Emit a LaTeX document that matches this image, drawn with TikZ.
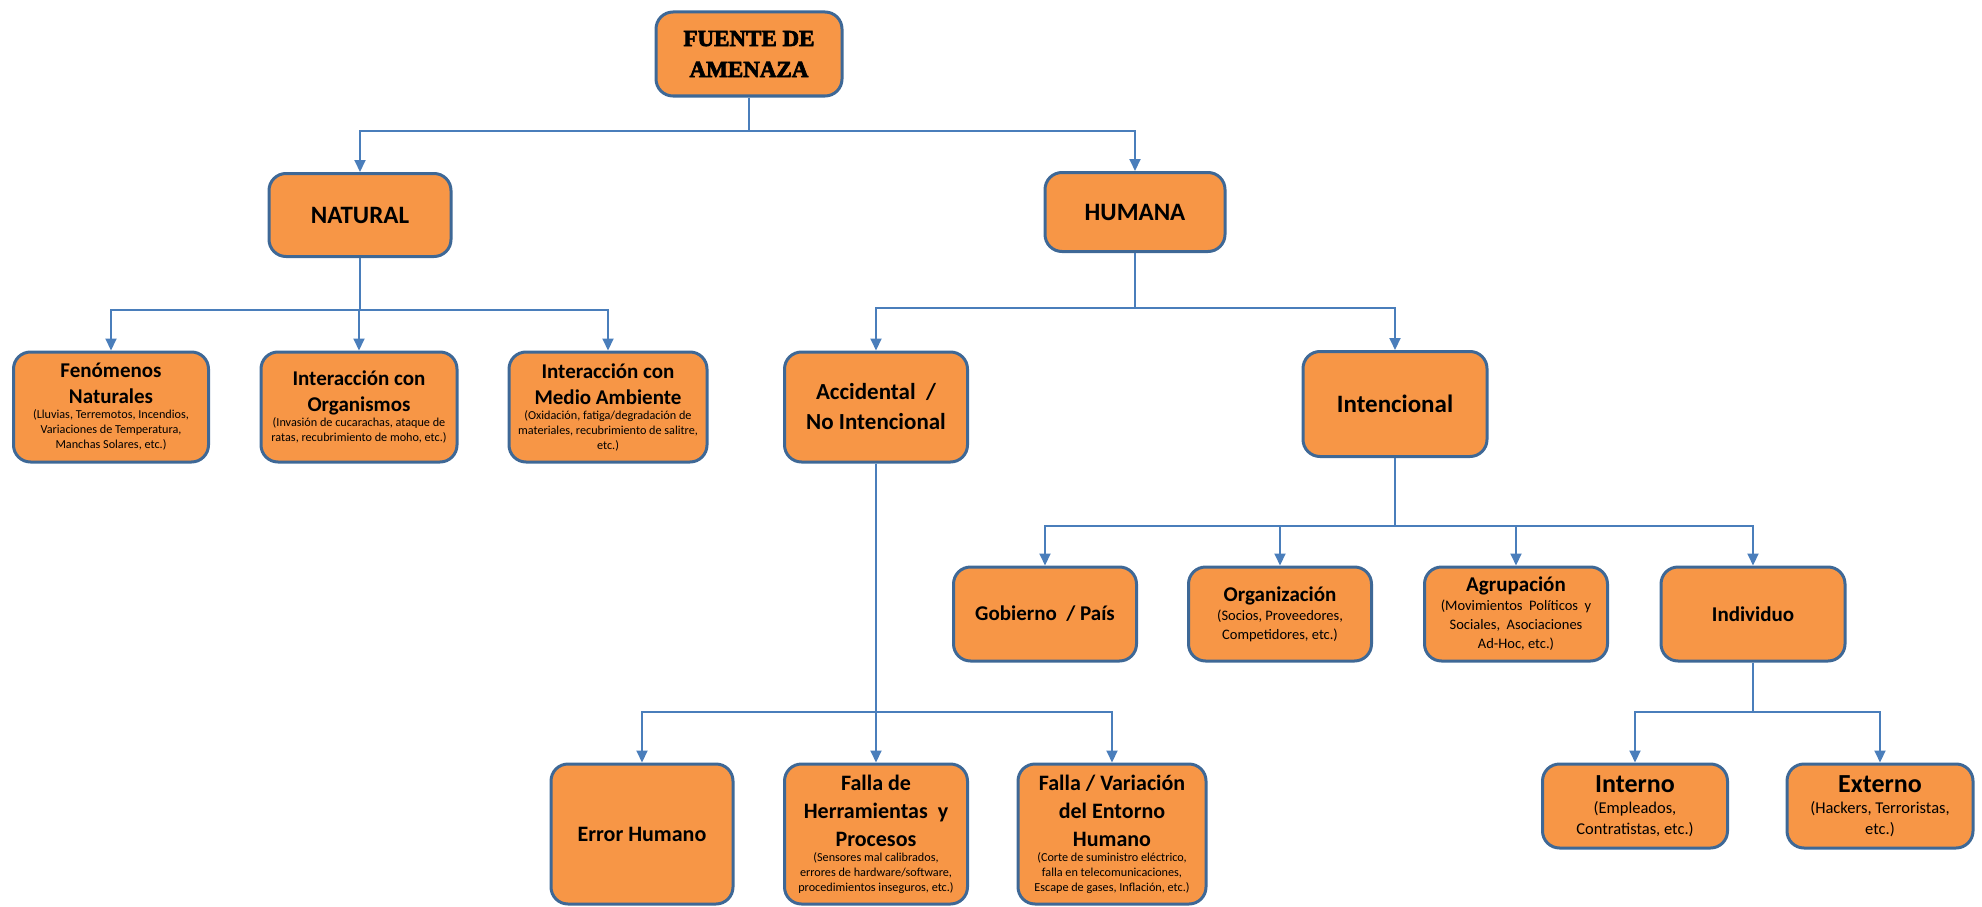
\documentclass[tikz,border=0pt]{standalone}
\usepackage{fontspec}
\setmainfont{Carlito}
\newfontfamily\titlefont[BoldFeatures={FakeBold=3}]{Liberation Serif}
\usetikzlibrary{arrows.meta}
\definecolor{boxfill}{HTML}{F79646}
\definecolor{boxline}{HTML}{3E6896}
\definecolor{wire}{HTML}{4A7EBB}
\newcommand{\smallnote}{\fontsize{12.2}{15}\selectfont\mdseries}
\newcommand{\midnote}{\fontsize{14.5}{19}\selectfont\mdseries}
\newcommand{\bignote}{\fontsize{16.5}{21}\selectfont\mdseries}

\begin{document}
\begin{tikzpicture}[
		x=1pt, y=-1pt,
		box/.style={draw=boxline, fill=boxfill, line width=3pt, rounded corners=17pt,
				align=flush center, inner sep=2pt, font=\fontsize{21}{26}\selectfont\bfseries},
		sz/.code 2 args={\pgfmathsetmacro\tw{#1-6}%
				\edef\next{\noexpand\tikzset{minimum width=#1pt, minimum height=#2pt, text width=\tw pt}}\next},
		big/.style={font=\fontsize{25}{30}\selectfont\bfseries},
		link/.style={draw=wire, line width=2pt, -{Triangle[width=11pt,length=12pt]}}
	]
	\useasboundingbox (0,0) rectangle (1982,907);

	% top
	\node[box, sz={186}{84}, font=\titlefont\fontsize{23}{31}\selectfont\bfseries] (root) at (749,54) {FUENTE DE\\AMENAZA};

	\node[box, big, sz={182}{83}] (nat) at (360,215) {NATURAL};
	\node[box, big, sz={180}{79}] (hum) at (1135,212) {HUMANA};

	% natural
	\node[box, sz={195}{110}] (fen) at (111,407) {Fenómenos\\Naturales\par
		{\smallnote (Lluvias, Terremotos, Incendios,\\Variaciones de Temperatura,\\Manchas Solares, etc.)\par}};
	\node[box, sz={196}{110}] (orgn) at (359,407) {Interacción con\\Organismos\par
		{\smallnote (Invasión de cucarachas, ataque de\\ratas, recubrimiento de moho, etc.)\par}};
	\node[box, sz={198}{110}] (amb) at (608,407) {Interacción con\\Medio Ambiente\par
		{\smallnote (Oxidación, fatiga/degradación de\\materiales, recubrimiento de salitre,\\etc.)\par}};

	% humana
	\node[box, sz={183}{110}, font=\fontsize{23}{30}\selectfont\bfseries] (acc) at (876,407) {Accidental~ /\\No Intencional};
	\node[box, big, sz={184}{105}] (inten) at (1395,404) {Intencional};

	\node[box, sz={182}{140}, font=\fontsize{22}{27}\selectfont\bfseries] (err) at (642,834) {Error Humano};
	\node[box, sz={183}{140}, font=\fontsize{22}{28}\selectfont\bfseries] (herr) at (876,834) {Falla de\\Herramientas~ y\\Procesos\par
		{\smallnote (Sensores mal calibrados,\\errores de hardware/software,\\procedimientos inseguros, etc.)\par}};
	\node[box, sz={188}{140}, font=\fontsize{22}{28}\selectfont\bfseries] (var) at (1112,834) {Falla / Variación\\del Entorno\\Humano\par
		{\smallnote (Corte de suministro eléctrico,\\falla en telecomunicaciones,\\Escape de gases, Inflación, etc.)\par}};

	\node[box, sz={183}{94}] (gob) at (1045,614) {Gobierno~ / País};
	\node[box, sz={183}{94}] (orgz) at (1280,614) {Organización\par
		{\midnote (Socios, Proveedores,\\Competidores, etc.)\par}};
	\node[box, sz={183}{94}] (agr) at (1516,614) {Agrupación\par
		{\midnote (Movimientos~ Políticos~ y\\Sociales,~ Asociaciones\\Ad-Hoc, etc.)\par}};
	\node[box, sz={184}{94}] (ind) at (1753,614) {Individuo};

	\node[box, sz={185}{84}, font=\fontsize{26}{30}\selectfont\bfseries] (intr) at (1635,806) {Interno\par
		{\bignote (Empleados,\\Contratistas, etc.)\par}};
	\node[box, sz={186}{84}, font=\fontsize{26}{30}\selectfont\bfseries] (ext) at (1880,806) {Externo\par
		{\bignote (Hackers, Terroristas,\\etc.)\par}};

	% connectors
	\coordinate (b0) at (749,131);
	\coordinate (b1) at (360,310);
	\coordinate (b2) at (1135,308);
	\coordinate (b3) at (876,712);
	\coordinate (b4) at (1395,526);
	\coordinate (b5) at (1753,712);

	\draw[link] (root.south) -- (b0) -| (nat.north);
	\draw[link] (root.south) -- (b0) -| (hum.north);

	\draw[link] (nat.south) -- (b1) -| (fen.north);
	\draw[link] (nat.south) -- (b1) -| (orgn.north);
	\draw[link] (nat.south) -- (b1) -| (amb.north);

	\draw[link] (hum.south) -- (b2) -| (acc.north);
	\draw[link] (hum.south) -- (b2) -| (inten.north);

	\draw[link] (acc.south) -- (b3) -| (err.north);
	\draw[link] (acc.south) -- (b3) -| (herr.north);
	\draw[link] (acc.south) -- (b3) -| (var.north);

	\draw[link] (inten.south) -- (b4) -| (gob.north);
	\draw[link] (inten.south) -- (b4) -| (orgz.north);
	\draw[link] (inten.south) -- (b4) -| (agr.north);
	\draw[link] (inten.south) -- (b4) -| (ind.north);

	\draw[link] (ind.south) -- (b5) -| (intr.north);
	\draw[link] (ind.south) -- (b5) -| (ext.north);
\end{tikzpicture}
\end{document}
